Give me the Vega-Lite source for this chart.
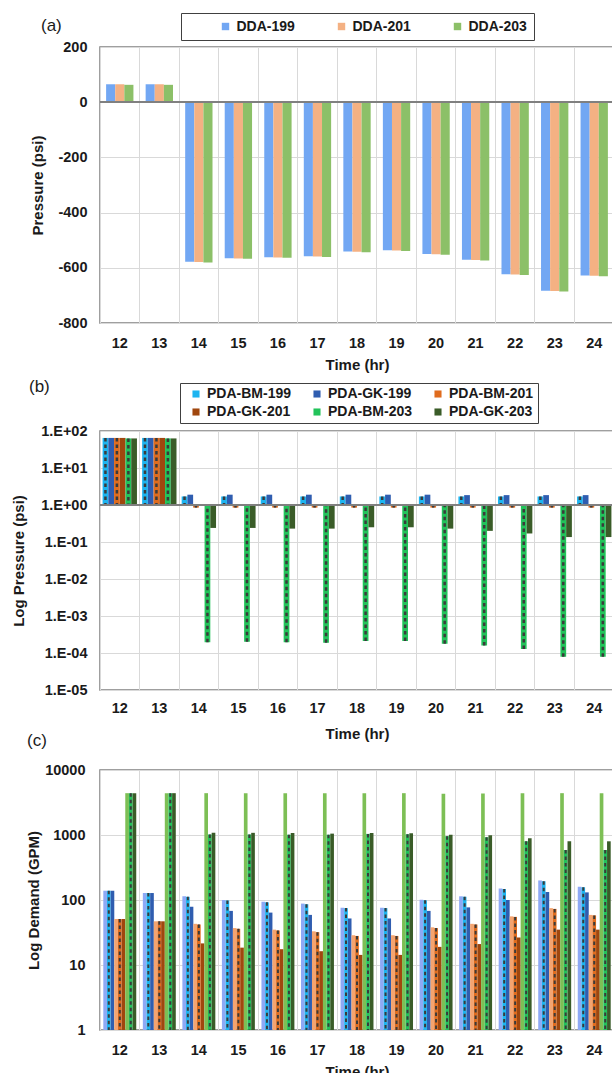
{
  "$schema": "https://vega.github.io/schema/vega-lite/v6.json",
  "padding": {"left": 10, "top": 11, "right": 0, "bottom": 0},
  "spacing": -12,
  "config": {
    "font": "Liberation Sans",
    "view": {"stroke": "#808080", "strokeWidth": 1.5},
    "axis": {"labelFont": "Liberation Sans", "titleFont": "Liberation Sans", "labelFontSize": 14.5, "labelFontWeight": "bold", "titleFontSize": 15, "titleFontWeight": "bold", "labelColor": "#1a1a1a", "titleColor": "#1a1a1a", "domain": false, "ticks": false, "gridColor": "#d9d9d9", "gridWidth": 1, "labelOverlap": false},
    "legend": {"labelFont": "Liberation Sans", "labelFontSize": 14, "labelFontWeight": "bold", "labelColor": "#1a1a1a", "symbolType": "square", "symbolStrokeWidth": 0, "strokeColor": "#404040", "fillColor": "white"},
    "title": {"font": "Liberation Sans", "fontSize": 17, "fontWeight": "normal", "anchor": "start", "color": "#1a1a1a", "frame": "group"}
  },
  "datasets": {
    "a": [
      {"hour": 12, "series": "DDA-199", "value": 65}, {"hour": 12, "series": "DDA-201", "value": 65}, {"hour": 12, "series": "DDA-203", "value": 63},
      {"hour": 13, "series": "DDA-199", "value": 65}, {"hour": 13, "series": "DDA-201", "value": 65}, {"hour": 13, "series": "DDA-203", "value": 63},
      {"hour": 14, "series": "DDA-199", "value": -578}, {"hour": 14, "series": "DDA-201", "value": -579}, {"hour": 14, "series": "DDA-203", "value": -581},
      {"hour": 15, "series": "DDA-199", "value": -565}, {"hour": 15, "series": "DDA-201", "value": -566}, {"hour": 15, "series": "DDA-203", "value": -567},
      {"hour": 16, "series": "DDA-199", "value": -562}, {"hour": 16, "series": "DDA-201", "value": -563}, {"hour": 16, "series": "DDA-203", "value": -564},
      {"hour": 17, "series": "DDA-199", "value": -558}, {"hour": 17, "series": "DDA-201", "value": -559}, {"hour": 17, "series": "DDA-203", "value": -561},
      {"hour": 18, "series": "DDA-199", "value": -541}, {"hour": 18, "series": "DDA-201", "value": -542}, {"hour": 18, "series": "DDA-203", "value": -544},
      {"hour": 19, "series": "DDA-199", "value": -536}, {"hour": 19, "series": "DDA-201", "value": -537}, {"hour": 19, "series": "DDA-203", "value": -539},
      {"hour": 20, "series": "DDA-199", "value": -550}, {"hour": 20, "series": "DDA-201", "value": -551}, {"hour": 20, "series": "DDA-203", "value": -553},
      {"hour": 21, "series": "DDA-199", "value": -571}, {"hour": 21, "series": "DDA-201", "value": -572}, {"hour": 21, "series": "DDA-203", "value": -574},
      {"hour": 22, "series": "DDA-199", "value": -623}, {"hour": 22, "series": "DDA-201", "value": -624}, {"hour": 22, "series": "DDA-203", "value": -626},
      {"hour": 23, "series": "DDA-199", "value": -683}, {"hour": 23, "series": "DDA-201", "value": -684}, {"hour": 23, "series": "DDA-203", "value": -686},
      {"hour": 24, "series": "DDA-199", "value": -628}, {"hour": 24, "series": "DDA-201", "value": -629}, {"hour": 24, "series": "DDA-203", "value": -631}
    ],
    "b": [
      {"hour": 12, "series": "PDA-BM-199", "value": 65}, {"hour": 12, "series": "PDA-GK-199", "value": 65}, {"hour": 12, "series": "PDA-BM-201", "value": 65}, {"hour": 12, "series": "PDA-GK-201", "value": 65}, {"hour": 12, "series": "PDA-BM-203", "value": 63}, {"hour": 12, "series": "PDA-GK-203", "value": 63},
      {"hour": 13, "series": "PDA-BM-199", "value": 65}, {"hour": 13, "series": "PDA-GK-199", "value": 65}, {"hour": 13, "series": "PDA-BM-201", "value": 65}, {"hour": 13, "series": "PDA-GK-201", "value": 65}, {"hour": 13, "series": "PDA-BM-203", "value": 63}, {"hour": 13, "series": "PDA-GK-203", "value": 63},
      {"hour": 14, "series": "PDA-BM-199", "value": 1.7}, {"hour": 14, "series": "PDA-GK-199", "value": 1.9}, {"hour": 14, "series": "PDA-BM-201", "value": 0.85}, {"hour": 14, "series": "PDA-GK-201", "value": 0.97}, {"hour": 14, "series": "PDA-BM-203", "value": 0.000196}, {"hour": 14, "series": "PDA-GK-203", "value": 0.24},
      {"hour": 15, "series": "PDA-BM-199", "value": 1.7}, {"hour": 15, "series": "PDA-GK-199", "value": 1.9}, {"hour": 15, "series": "PDA-BM-201", "value": 0.85}, {"hour": 15, "series": "PDA-GK-201", "value": 0.97}, {"hour": 15, "series": "PDA-BM-203", "value": 0.0002}, {"hour": 15, "series": "PDA-GK-203", "value": 0.24},
      {"hour": 16, "series": "PDA-BM-199", "value": 1.7}, {"hour": 16, "series": "PDA-GK-199", "value": 1.9}, {"hour": 16, "series": "PDA-BM-201", "value": 0.85}, {"hour": 16, "series": "PDA-GK-201", "value": 0.97}, {"hour": 16, "series": "PDA-BM-203", "value": 0.000196}, {"hour": 16, "series": "PDA-GK-203", "value": 0.23},
      {"hour": 17, "series": "PDA-BM-199", "value": 1.7}, {"hour": 17, "series": "PDA-GK-199", "value": 1.9}, {"hour": 17, "series": "PDA-BM-201", "value": 0.85}, {"hour": 17, "series": "PDA-GK-201", "value": 0.97}, {"hour": 17, "series": "PDA-BM-203", "value": 0.00019}, {"hour": 17, "series": "PDA-GK-203", "value": 0.23},
      {"hour": 18, "series": "PDA-BM-199", "value": 1.7}, {"hour": 18, "series": "PDA-GK-199", "value": 1.9}, {"hour": 18, "series": "PDA-BM-201", "value": 0.85}, {"hour": 18, "series": "PDA-GK-201", "value": 0.97}, {"hour": 18, "series": "PDA-BM-203", "value": 0.00021}, {"hour": 18, "series": "PDA-GK-203", "value": 0.25},
      {"hour": 19, "series": "PDA-BM-199", "value": 1.7}, {"hour": 19, "series": "PDA-GK-199", "value": 1.9}, {"hour": 19, "series": "PDA-BM-201", "value": 0.85}, {"hour": 19, "series": "PDA-GK-201", "value": 0.97}, {"hour": 19, "series": "PDA-BM-203", "value": 0.00021}, {"hour": 19, "series": "PDA-GK-203", "value": 0.25},
      {"hour": 20, "series": "PDA-BM-199", "value": 1.7}, {"hour": 20, "series": "PDA-GK-199", "value": 1.9}, {"hour": 20, "series": "PDA-BM-201", "value": 0.85}, {"hour": 20, "series": "PDA-GK-201", "value": 0.97}, {"hour": 20, "series": "PDA-BM-203", "value": 0.000177}, {"hour": 20, "series": "PDA-GK-203", "value": 0.23},
      {"hour": 21, "series": "PDA-BM-199", "value": 1.7}, {"hour": 21, "series": "PDA-GK-199", "value": 1.85}, {"hour": 21, "series": "PDA-BM-201", "value": 0.85}, {"hour": 21, "series": "PDA-GK-201", "value": 0.97}, {"hour": 21, "series": "PDA-BM-203", "value": 0.00016}, {"hour": 21, "series": "PDA-GK-203", "value": 0.2},
      {"hour": 22, "series": "PDA-BM-199", "value": 1.7}, {"hour": 22, "series": "PDA-GK-199", "value": 1.85}, {"hour": 22, "series": "PDA-BM-201", "value": 0.85}, {"hour": 22, "series": "PDA-GK-201", "value": 0.97}, {"hour": 22, "series": "PDA-BM-203", "value": 0.000128}, {"hour": 22, "series": "PDA-GK-203", "value": 0.17},
      {"hour": 23, "series": "PDA-BM-199", "value": 1.7}, {"hour": 23, "series": "PDA-GK-199", "value": 1.85}, {"hour": 23, "series": "PDA-BM-201", "value": 0.85}, {"hour": 23, "series": "PDA-GK-201", "value": 0.97}, {"hour": 23, "series": "PDA-BM-203", "value": 0.000079}, {"hour": 23, "series": "PDA-GK-203", "value": 0.136},
      {"hour": 24, "series": "PDA-BM-199", "value": 1.7}, {"hour": 24, "series": "PDA-GK-199", "value": 1.85}, {"hour": 24, "series": "PDA-BM-201", "value": 0.85}, {"hour": 24, "series": "PDA-GK-201", "value": 0.97}, {"hour": 24, "series": "PDA-BM-203", "value": 0.000079}, {"hour": 24, "series": "PDA-GK-203", "value": 0.136}
    ],
    "c": [
      {"hour": 12, "series": "DDA-199", "value": 139}, {"hour": 12, "series": "PDA-BM-199", "value": 139}, {"hour": 12, "series": "PDA-GK-199", "value": 139}, {"hour": 12, "series": "DDA-201", "value": 51}, {"hour": 12, "series": "PDA-BM-201", "value": 51}, {"hour": 12, "series": "PDA-GK-201", "value": 51}, {"hour": 12, "series": "DDA-203", "value": 4400}, {"hour": 12, "series": "PDA-BM-203", "value": 4400}, {"hour": 12, "series": "PDA-GK-203", "value": 4400},
      {"hour": 13, "series": "DDA-199", "value": 128}, {"hour": 13, "series": "PDA-BM-199", "value": 128}, {"hour": 13, "series": "PDA-GK-199", "value": 128}, {"hour": 13, "series": "DDA-201", "value": 47}, {"hour": 13, "series": "PDA-BM-201", "value": 47}, {"hour": 13, "series": "PDA-GK-201", "value": 47}, {"hour": 13, "series": "DDA-203", "value": 4400}, {"hour": 13, "series": "PDA-BM-203", "value": 4400}, {"hour": 13, "series": "PDA-GK-203", "value": 4400},
      {"hour": 14, "series": "DDA-199", "value": 114}, {"hour": 14, "series": "PDA-BM-199", "value": 112}, {"hour": 14, "series": "PDA-GK-199", "value": 79}, {"hour": 14, "series": "DDA-201", "value": 43}, {"hour": 14, "series": "PDA-BM-201", "value": 42}, {"hour": 14, "series": "PDA-GK-201", "value": 21.5}, {"hour": 14, "series": "DDA-203", "value": 4400}, {"hour": 14, "series": "PDA-BM-203", "value": 1020}, {"hour": 14, "series": "PDA-GK-203", "value": 1080},
      {"hour": 15, "series": "DDA-199", "value": 100}, {"hour": 15, "series": "PDA-BM-199", "value": 98}, {"hour": 15, "series": "PDA-GK-199", "value": 68}, {"hour": 15, "series": "DDA-201", "value": 37}, {"hour": 15, "series": "PDA-BM-201", "value": 36}, {"hour": 15, "series": "PDA-GK-201", "value": 18.5}, {"hour": 15, "series": "DDA-203", "value": 4400}, {"hour": 15, "series": "PDA-BM-203", "value": 1020}, {"hour": 15, "series": "PDA-GK-203", "value": 1080},
      {"hour": 16, "series": "DDA-199", "value": 94}, {"hour": 16, "series": "PDA-BM-199", "value": 92}, {"hour": 16, "series": "PDA-GK-199", "value": 64}, {"hour": 16, "series": "DDA-201", "value": 35}, {"hour": 16, "series": "PDA-BM-201", "value": 34}, {"hour": 16, "series": "PDA-GK-201", "value": 17.5}, {"hour": 16, "series": "DDA-203", "value": 4400}, {"hour": 16, "series": "PDA-BM-203", "value": 1010}, {"hour": 16, "series": "PDA-GK-203", "value": 1070},
      {"hour": 17, "series": "DDA-199", "value": 88}, {"hour": 17, "series": "PDA-BM-199", "value": 86}, {"hour": 17, "series": "PDA-GK-199", "value": 59}, {"hour": 17, "series": "DDA-201", "value": 33}, {"hour": 17, "series": "PDA-BM-201", "value": 32}, {"hour": 17, "series": "PDA-GK-201", "value": 16.3}, {"hour": 17, "series": "DDA-203", "value": 4400}, {"hour": 17, "series": "PDA-BM-203", "value": 1010}, {"hour": 17, "series": "PDA-GK-203", "value": 1050},
      {"hour": 18, "series": "DDA-199", "value": 76}, {"hour": 18, "series": "PDA-BM-199", "value": 75}, {"hour": 18, "series": "PDA-GK-199", "value": 52}, {"hour": 18, "series": "DDA-201", "value": 28.7}, {"hour": 18, "series": "PDA-BM-201", "value": 28}, {"hour": 18, "series": "PDA-GK-201", "value": 14.3}, {"hour": 18, "series": "DDA-203", "value": 4400}, {"hour": 18, "series": "PDA-BM-203", "value": 1040}, {"hour": 18, "series": "PDA-GK-203", "value": 1070},
      {"hour": 19, "series": "DDA-199", "value": 76}, {"hour": 19, "series": "PDA-BM-199", "value": 75}, {"hour": 19, "series": "PDA-GK-199", "value": 52}, {"hour": 19, "series": "DDA-201", "value": 28.7}, {"hour": 19, "series": "PDA-BM-201", "value": 28}, {"hour": 19, "series": "PDA-GK-201", "value": 14.3}, {"hour": 19, "series": "DDA-203", "value": 4400}, {"hour": 19, "series": "PDA-BM-203", "value": 1030}, {"hour": 19, "series": "PDA-GK-203", "value": 1060},
      {"hour": 20, "series": "DDA-199", "value": 101}, {"hour": 20, "series": "PDA-BM-199", "value": 99}, {"hour": 20, "series": "PDA-GK-199", "value": 68}, {"hour": 20, "series": "DDA-201", "value": 38}, {"hour": 20, "series": "PDA-BM-201", "value": 37}, {"hour": 20, "series": "PDA-GK-201", "value": 19}, {"hour": 20, "series": "DDA-203", "value": 4300}, {"hour": 20, "series": "PDA-BM-203", "value": 960}, {"hour": 20, "series": "PDA-GK-203", "value": 1010},
      {"hour": 21, "series": "DDA-199", "value": 114}, {"hour": 21, "series": "PDA-BM-199", "value": 112}, {"hour": 21, "series": "PDA-GK-199", "value": 77}, {"hour": 21, "series": "DDA-201", "value": 43}, {"hour": 21, "series": "PDA-BM-201", "value": 42}, {"hour": 21, "series": "PDA-GK-201", "value": 21}, {"hour": 21, "series": "DDA-203", "value": 4350}, {"hour": 21, "series": "PDA-BM-203", "value": 920}, {"hour": 21, "series": "PDA-GK-203", "value": 990},
      {"hour": 22, "series": "DDA-199", "value": 150}, {"hour": 22, "series": "PDA-BM-199", "value": 147}, {"hour": 22, "series": "PDA-GK-199", "value": 100}, {"hour": 22, "series": "DDA-201", "value": 56}, {"hour": 22, "series": "PDA-BM-201", "value": 55}, {"hour": 22, "series": "PDA-GK-201", "value": 26.5}, {"hour": 22, "series": "DDA-203", "value": 4400}, {"hour": 22, "series": "PDA-BM-203", "value": 800}, {"hour": 22, "series": "PDA-GK-203", "value": 890},
      {"hour": 23, "series": "DDA-199", "value": 200}, {"hour": 23, "series": "PDA-BM-199", "value": 195}, {"hour": 23, "series": "PDA-GK-199", "value": 133}, {"hour": 23, "series": "DDA-201", "value": 75}, {"hour": 23, "series": "PDA-BM-201", "value": 73}, {"hour": 23, "series": "PDA-GK-201", "value": 35}, {"hour": 23, "series": "DDA-203", "value": 4400}, {"hour": 23, "series": "PDA-BM-203", "value": 590}, {"hour": 23, "series": "PDA-GK-203", "value": 800},
      {"hour": 24, "series": "DDA-199", "value": 160}, {"hour": 24, "series": "PDA-BM-199", "value": 157}, {"hour": 24, "series": "PDA-GK-199", "value": 131}, {"hour": 24, "series": "DDA-201", "value": 59}, {"hour": 24, "series": "PDA-BM-201", "value": 58}, {"hour": 24, "series": "PDA-GK-201", "value": 35}, {"hour": 24, "series": "DDA-203", "value": 4400}, {"hour": 24, "series": "PDA-BM-203", "value": 590}, {"hour": 24, "series": "PDA-GK-203", "value": 800}
    ]
  },
  "vconcat": [
    {
      "width": 514, "height": 276,
      "title": {"text": "(a)", "dx": -59, "offset": -22},
      "data": {"name": "a"},
      "layer": [
        {
          "mark": {"type": "bar"},
          "encoding": {
            "x": {"field": "hour", "type": "ordinal", "scale": {"paddingInner": 0, "paddingOuter": 0}, "axis": {"title": "Time (hr)", "labelAngle": 0, "grid": true, "bandPosition": 0, "labelPadding": 13, "titlePadding": 8}},
            "xOffset": {"field": "series", "type": "nominal", "sort": null, "scale": {"domain": ["DDA-199", "DDA-201", "DDA-203"], "paddingInner": 0, "paddingOuter": 0.67}},
            "y": {"field": "value", "type": "quantitative", "scale": {"domain": [-800, 200], "nice": false, "zero": false}, "axis": {"title": "Pressure (psi)", "values": [-800, -700, -600, -500, -400, -300, -200, -100, 0, 100, 200], "labelExpr": "datum.value < 0 ? '-' + abs(datum.value) : '' + datum.value", "labelPadding": 13, "titlePadding": 12, "grid": true}},
            "color": {"field": "series", "type": "nominal", "scale": {"domain": ["DDA-199", "DDA-201", "DDA-203"], "range": ["#72A7F3", "#F4B183", "#8CC068"]}, "legend": {"title": null, "orient": "none", "legendX": 81, "legendY": -34, "direction": "horizontal", "symbolSize": 55, "padding": 6.5, "columnPadding": 8, "symbolOffset": 31}}
          }
        },
        {"mark": {"type": "rule", "color": "#808080", "strokeWidth": 1.5}, "encoding": {"y": {"datum": 0}}}
      ]
    },
    {
      "width": 514, "height": 259,
      "title": {"text": ["", "(b)"], "lineHeight": 15.6, "dx": -71, "offset": -14},
      "data": {"name": "b"},
      "layer": [
        {
          "mark": {"type": "bar"},
          "encoding": {
            "x": {"field": "hour", "type": "ordinal", "scale": {"paddingInner": 0, "paddingOuter": 0}, "axis": {"title": "Time (hr)", "labelAngle": 0, "grid": true, "bandPosition": 0, "labelPadding": 11, "titlePadding": 12}},
            "xOffset": {"field": "series", "type": "nominal", "sort": null, "scale": {"domain": ["PDA-BM-199", "PDA-GK-199", "PDA-BM-201", "PDA-GK-201", "PDA-BM-203", "PDA-GK-203"], "paddingInner": 0, "paddingOuter": 0.45}},
            "y": {"field": "value", "type": "quantitative", "scale": {"type": "log", "domain": [0.00001, 100], "nice": false}, "axis": {"title": "Log Pressure (psi)", "values": [0.00001, 0.0001, 0.001, 0.01, 0.1, 1, 10, 100], "labelExpr": "'1.E' + (datum.value >= 1 ? '+' : '-') + '0' + abs(round(log(datum.value) / LN10))", "labelPadding": 13, "titlePadding": 14, "grid": true}},
            "y2": {"datum": 1},
            "color": {"field": "series", "type": "nominal", "scale": {"domain": ["PDA-BM-199", "PDA-GK-199", "PDA-BM-201", "PDA-GK-201", "PDA-BM-203", "PDA-GK-203"], "range": ["#1DB4F0", "#2F5DB0", "#E06C1E", "#A0470E", "#22C35A", "#3A5C28"]}, "legend": {"title": null, "orient": "none", "legendX": 80, "legendY": -48, "direction": "horizontal", "columns": 3, "symbolSize": 50, "padding": 4, "columnPadding": 13, "rowPadding": 4, "symbolOffset": 5}}
          }
        },
        {
          "transform": [{"filter": {"field": "series", "oneOf": ["PDA-BM-199", "PDA-BM-201", "PDA-BM-203"]}}],
          "mark": {"type": "rule", "color": "#3a3a3a", "strokeWidth": 2.5, "strokeDash": [3.5, 3]},
          "encoding": {
            "x": {"field": "hour", "type": "ordinal"},
            "xOffset": {"field": "series", "type": "nominal"},
            "y": {"field": "value", "type": "quantitative"},
            "y2": {"datum": 1}
          }
        },
        {"mark": {"type": "rule", "color": "#808080", "strokeWidth": 1.5}, "encoding": {"y": {"datum": 1}}}
      ]
    },
    {
      "width": 514, "height": 260,
      "title": {"text": "(c)", "dx": -73, "offset": 12},
      "data": {"name": "c"},
      "layer": [
        {
          "mark": {"type": "bar"},
          "encoding": {
            "x": {"field": "hour", "type": "ordinal", "scale": {"paddingInner": 0, "paddingOuter": 0}, "axis": {"title": "Time (hr)", "labelAngle": 0, "grid": true, "bandPosition": 0, "labelPadding": 13, "titlePadding": 8}},
            "xOffset": {"field": "series", "type": "nominal", "sort": null, "scale": {"domain": ["DDA-199", "PDA-BM-199", "PDA-GK-199", "DDA-201", "PDA-BM-201", "PDA-GK-201", "DDA-203", "PDA-BM-203", "PDA-GK-203"], "paddingInner": 0, "paddingOuter": 0.9}},
            "y": {"field": "value", "type": "quantitative", "scale": {"type": "log", "domain": [1, 10000], "nice": false}, "axis": {"title": "Log Demand (GPM)", "values": [1, 10, 100, 1000, 10000], "format": "d", "labelPadding": 15, "titlePadding": 3, "grid": true}},
            "y2": {"datum": 1},
            "color": {"field": "series", "type": "nominal", "scale": {"domain": ["DDA-199", "PDA-BM-199", "PDA-GK-199", "DDA-201", "PDA-BM-201", "PDA-GK-201", "DDA-203", "PDA-BM-203", "PDA-GK-203"], "range": ["#8EA9F5", "#1DB4F0", "#2F5DB0", "#F4A470", "#E06C1E", "#A0470E", "#7DBF55", "#22C35A", "#3A5C28"]}, "legend": null}
          }
        },
        {
          "transform": [{"filter": {"field": "series", "oneOf": ["PDA-BM-199", "PDA-BM-201", "PDA-BM-203"]}}],
          "mark": {"type": "rule", "color": "#3a3a3a", "strokeWidth": 2, "strokeDash": [3.5, 3]},
          "encoding": {
            "x": {"field": "hour", "type": "ordinal"},
            "xOffset": {"field": "series", "type": "nominal"},
            "y": {"field": "value", "type": "quantitative"},
            "y2": {"datum": 1}
          }
        }
      ]
    }
  ],
  "resolve": {"scale": {"color": "independent", "x": "independent", "y": "independent", "xOffset": "independent"}}
}
